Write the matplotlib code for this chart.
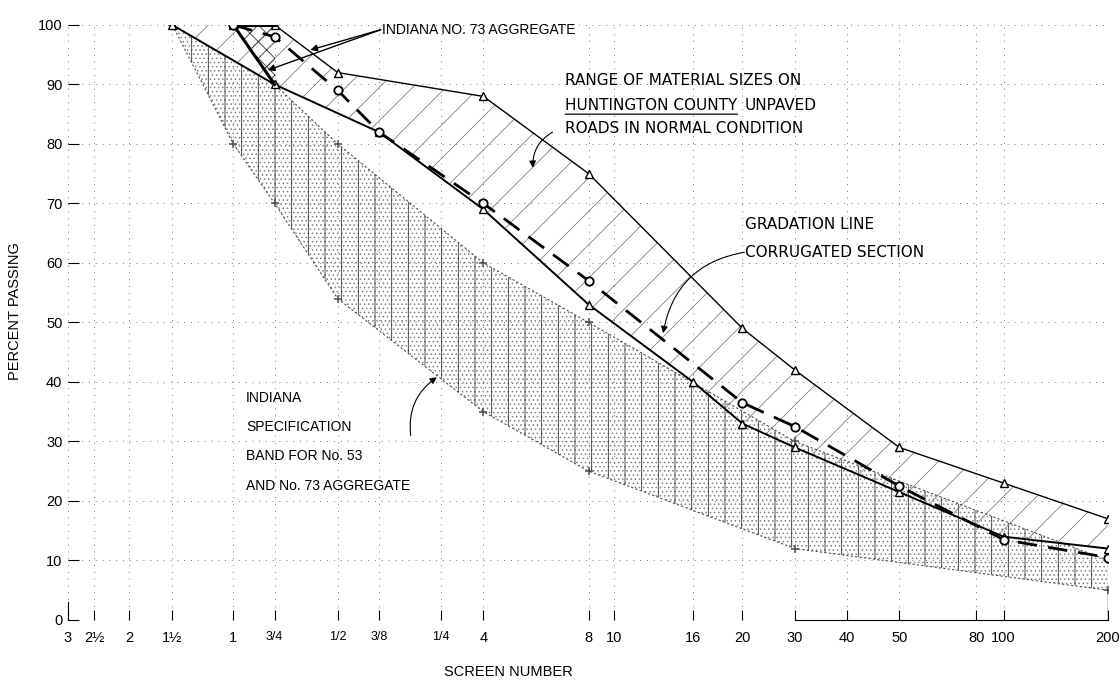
import matplotlib
matplotlib.use("Agg")
import numpy as np
import matplotlib.pyplot as plt

plt.rcParams['font.family'] = ['Liberation Sans', 'DejaVu Sans']
plt.rcParams['hatch.linewidth'] = 0.6

# screen numbers and their openings in mm (x axis is log of size, coarse on the left)
screen_labels = ["3", "2½", "2", "1½", "1", "3/4", "1/2", "3/8", "1/4", "4",
                 "8", "10", "16", "20", "30", "40", "50", "80", "100", "200"]
screen_mm = [75, 63, 50, 37.5, 25, 19, 12.5, 9.5, 6.3, 4.75,
             2.36, 2.0, 1.18, 0.85, 0.6, 0.425, 0.3, 0.18, 0.15, 0.075]
percent_ticks = [0, 10, 20, 30, 40, 50, 60, 70, 80, 90, 100]

# Huntington County unpaved roads in normal condition (range of sizes)
hunt_upper_screens = ["1", "3/4", "1/2", "4", "8", "20", "30", "50", "100", "200"]
hunt_upper_pct = [100, 100, 92, 88, 75, 49, 42, 29, 23, 17]
hunt_lower_screens = ["1½", "3/4", "3/8", "4", "8", "16", "20", "30", "50", "100", "200"]
hunt_lower_pct = [100, 90, 82, 69, 53, 40, 33, 29, 21.5, 14, 12]

# gradation line, corrugated section
corr_screens = ["1", "3/4", "1/2", "3/8", "4", "8", "20", "30", "50", "100", "200"]
corr_pct = [100, 98, 89, 82, 70, 57, 36.5, 32.5, 22.5, 13.5, 10.5]

# Indiana specification band for No. 53 and No. 73 aggregate
spec_upper_screens = ["1½", "3/4", "1/2", "4", "8", "30", "200"]
spec_upper_pct = [100, 90, 80, 60, 50, 30, 10]
spec_lower_screens = ["1½", "1", "3/4", "1/2", "4", "8", "30", "200"]
spec_lower_pct = [100, 80, 70, 54, 35, 25, 12, 5]

# Indiana No. 73 aggregate (top part of the band)
no73_screens = ["1", "3/4"]
no73_upper_pct = [100, 100]
no73_lower_pct = [100, 90]


def size_of(names):
    return [screen_mm[screen_labels.index(n)] for n in names]


def band(ax, up_s, up_p, lo_s, lo_p, **kw):
    xs = size_of(up_s) + size_of(lo_s)[::-1]
    ys = list(up_p) + list(lo_p)[::-1]
    ax.fill(xs, ys, **kw)


fig = plt.figure(figsize=(11.2, 6.81), dpi=100)
ax = fig.add_axes([0.0607, 0.0896, 0.9286, 0.8737])
ax.set_xscale('log')
ax.set_xlim(75, 0.075)
ax.set_ylim(0, 100)

# spec band: stipple + steep lines
band(ax, spec_upper_screens, spec_upper_pct, spec_lower_screens, spec_lower_pct,
     facecolor='none', edgecolor='0.5', hatch='....', lw=0, zorder=1)
band(ax, spec_upper_screens, spec_upper_pct, spec_lower_screens, spec_lower_pct,
     facecolor='none', edgecolor='0.2', hatch='|', lw=0, zorder=1)
# Huntington range: light diagonal hatch
band(ax, hunt_upper_screens, hunt_upper_pct, hunt_lower_screens, hunt_lower_pct,
     facecolor='none', edgecolor='0.5', hatch='/', lw=0, zorder=1)
# No. 73
band(ax, no73_screens, no73_upper_pct, no73_screens, no73_lower_pct,
     facecolor='none', edgecolor='0.2', hatch='xx', lw=0, zorder=1)

ax.plot(size_of(spec_upper_screens), spec_upper_pct, color='0.3', lw=0.8,
        ls=(0, (2, 2)), marker='+', ms=6, mew=1.1, zorder=3)
ax.plot(size_of(spec_lower_screens), spec_lower_pct, color='0.3', lw=0.8,
        ls=(0, (2, 2)), marker='+', ms=6, mew=1.1, zorder=3)
ax.vlines(screen_mm[-1], 0, spec_lower_pct[-1], color='k', lw=1.0, zorder=3)
ax.plot(size_of(hunt_upper_screens), hunt_upper_pct, color='k', lw=1.0,
        marker='^', ms=5.5, mfc='white', mec='k', zorder=4)
ax.plot(size_of(hunt_lower_screens), hunt_lower_pct, color='k', lw=1.4,
        marker='^', ms=5.5, mfc='white', mec='k', zorder=4)
ax.plot(size_of(corr_screens), corr_pct, color='k', lw=2.0, ls=(0, (7, 4)),
        marker='o', ms=6, mfc='white', mec='k', mew=1.3, zorder=5)
ax.plot(size_of(no73_screens), no73_upper_pct, color='k', lw=2.2, zorder=4)
ax.plot(size_of(no73_screens), no73_lower_pct, color='k', lw=2.2, zorder=4)

# axes / grid
ax.set_xticks(screen_mm)
ax.set_xticklabels(screen_labels)
for lab in ax.get_xticklabels():
    lab.set_fontsize(9 if '/' in lab.get_text() else 10.5)
ax.minorticks_off()
ax.set_yticks(percent_ticks)
ax.set_yticklabels([str(v) for v in percent_ticks], fontsize=10.5)
ax.tick_params(axis='x', direction='in', length=7, width=0.8, pad=8)
ax.tick_params(axis='y', direction='in', length=8, width=0.8, pad=4)
ax.grid(True, color='0.45', lw=0.7, ls=(0, (1, 6)))
ax.set_axisbelow(True)
for s in ['top', 'right']:
    ax.spines[s].set_visible(False)
ax.spines['left'].set_bounds(0, 3)
ax.spines['bottom'].set_bounds(0.6, 0.075)

ax.set_ylabel('PERCENT PASSING', fontsize=10.5)
ax.yaxis.set_label_coords(-0.044, 0.52)
ax.set_xlabel('SCREEN NUMBER', fontsize=10.5)
ax.xaxis.set_label_coords(0.423, -0.076)

# annotations
ax.text(9.3, 99.2, 'INDIANA NO. 73 AGGREGATE', fontsize=10, va='center')
for tip in [(15.0, 95.8), (19.9, 92.4)]:
    ax.annotate('', xy=tip, xytext=(9.4, 99.2),
                arrowprops=dict(arrowstyle='-|>', color='k', lw=1.0,
                                shrinkA=0, shrinkB=0))

wide = dict(fontsize=11, family='DejaVu Sans', va='center')
ax.text(2.76, 90.6, 'RANGE OF MATERIAL SIZES ON', **wide)
thc = ax.text(2.76, 86.4, 'HUNTINGTON COUNTY', **wide)
ax.annotate('UNPAVED', xy=(1, 0.5), xycoords=thc, xytext=(5, 0),
            textcoords='offset points', fontsize=11, family='DejaVu Sans', va='center')
ax.annotate('', xy=(1, -0.05), xycoords=thc, xytext=(0, -0.05), textcoords=thc,
            arrowprops=dict(arrowstyle='-', lw=0.9, color='k', shrinkA=0, shrinkB=0))
ax.text(2.76, 82.6, 'ROADS IN NORMAL CONDITION', **wide)
ax.annotate('', xy=(3.42, 76), xytext=(3.0, 82),
            arrowprops=dict(arrowstyle='-|>', color='k', lw=0.8,
                            connectionstyle='arc3,rad=0.3', shrinkA=0, shrinkB=0))

ax.text(0.835, 66.4, 'GRADATION LINE', **wide)
ax.text(0.835, 61.8, 'CORRUGATED SECTION', **wide)
ax.annotate('', xy=(1.44, 48.2), xytext=(0.84, 61.8),
            arrowprops=dict(arrowstyle='-|>', color='k', lw=0.8,
                            connectionstyle='arc3,rad=0.35', shrinkA=0, shrinkB=0))

spec_lines = ['INDIANA', 'SPECIFICATION', 'BAND FOR No. 53', 'AND No. 73 AGGREGATE']
for i, line in enumerate(spec_lines):
    ax.text(23.0, 37.3 - 4.9 * i, line, fontsize=10, va='center')
ax.annotate('', xy=(6.47, 40.8), xytext=(7.7, 31),
            arrowprops=dict(arrowstyle='-|>', color='k', lw=0.8,
                            connectionstyle='arc3,rad=-0.3', shrinkA=0, shrinkB=0))

fig.savefig('out.png', dpi=100)
